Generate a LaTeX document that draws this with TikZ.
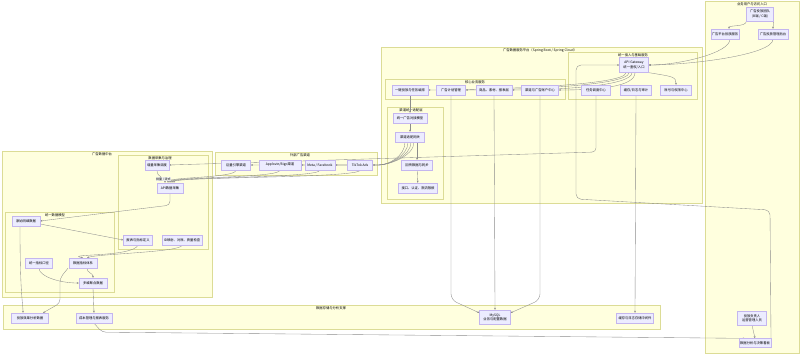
\documentclass[tikz,border=0pt]{standalone}
\usepackage{fontspec}
\newfontfamily\cjk{Noto Sans CJK SC}
\usepackage{tikz}
\usetikzlibrary{arrows.meta, positioning, calc}
\definecolor{clfill}{HTML}{FFFFDE}
\definecolor{clline}{HTML}{DCDC96}
\definecolor{ndfill}{HTML}{ECECFF}
\definecolor{ndline}{HTML}{C4B6EE}
\pgfdeclarelayer{grp}
\pgfdeclarelayer{lnk}
\pgfsetlayers{grp,lnk,main}
\tikzset{
  %% Subgraph frame
  grp/.style={draw=clline, fill=clfill, line width=0.4pt},
  %% Subgraph title
  grptitle/.style={font=\cjk\fontsize{3.3}{4}\selectfont, inner sep=0pt, anchor=north},
  %% Service node
  svc/.style={
    rectangle, draw=ndline, fill=ndfill,
    font=\cjk\fontsize{3.3}{4.2}\selectfont, align=center,
    inner sep=1pt, minimum height=10pt, minimum width=#1,
    line width=0.3pt
  },
  svc/.default=28pt,
  %% Arrow
  arr/.style={-{Stealth[length=2.2pt,width=1.8pt]},
              draw=black!45, line width=0.35pt},
  %% Edge label
  lbl/.style={fill=gray!12, font=\cjk\fontsize{3}{3.6}\selectfont, inner sep=0.6pt},
}
\begin{document}
\begin{tikzpicture}[x=1pt, y=-1pt]
  \useasboundingbox (0,0) rectangle (800,354);
  %% subgraphs
  \begin{pgfonlayer}{grp}
    \fill[white] (0,0) rectangle (800,354);
    \draw[grp] (705,1) rectangle (799,353);
    \draw[grp] (381,47) rectangle (702,203);
    \draw[grp] (568,52) rectangle (697,99);
    \draw[grp] (385,79) rectangle (565,99);
    \draw[grp] (387,107) rectangle (443,199);
    \draw[grp] (215,152) rectangle (377,175);
    \draw[grp] (2,151) rectangle (212,297);
    \draw[grp] (118,155) rectangle (208,249);
    \draw[grp] (5,212) rectangle (114,292);
    \draw[grp] (3,305) rectangle (660,329);
    \node[grptitle] (tUser) at (752,2.5) {业务用户与访问入口};
    \node[grptitle] (tPlat) at (540,48.5) {广告数据服务平台（Spring Boot / Spring Cloud）};
    \node[grptitle] (tAccess) at (633,53.5) {统一接入与基础服务};
    \node[grptitle] (tCore) at (475,80.5) {核心业务服务};
    \node[grptitle] (tAdapt) at (411,108.5) {渠道统一适配层};
    \node[grptitle] (tChan) at (300,153.5) {外部广告渠道};
    \node[grptitle] (tData) at (102,152.5) {广告数据中台};
    \node[grptitle] (tCollect) at (160,156.5) {数据采集与治理};
    \node[grptitle] (tModel) at (55,213.5) {统一数据模型};
    \node[grptitle] (tStore) at (331,306.5) {数据存储与分析支撑};
  \end{pgfonlayer}

  %% user entry
  \node[svc=27pt, minimum height=14pt] (userTeam) at (760,14) {广告投放团队\\(B端 / C端)};
  \node[svc=27pt] (platSvc) at (725,34) {广告平台投放服务};
  \node[svc=30pt] (adminSvc) at (773,34) {广告投放管理后台};
  \node[svc=29pt, minimum height=14pt] (rptUser) at (752,318) {投放负责人\\运营管理人员};
  \node[svc=30pt, minimum height=9pt] (board) at (755,343) {数据分析与决策看板};

  %% platform
  \node[svc=29pt, minimum height=15pt] (gateway) at (634,65) {API Gateway\\统一鉴权/入口};
  \node[svc=29pt] (taskSched) at (596,90) {任务调度中心};
  \node[svc=31pt] (cacheLog) at (636,90) {缓存/日志与审计};
  \node[svc=31pt] (acctAuth) at (676,90) {账号与权限中心};
  \node[svc=36pt] (oneKey) at (410,90) {一键投放与任务编排};
  \node[svc=29pt] (planMgr) at (451,90) {广告计划管理};
  \node[svc=36pt] (material) at (494,90) {商品、素材、报表层};
  \node[svc=37pt] (channelAcct) at (540,90) {渠道与广告账户中心};
  \node[svc=34pt] (unifyModel) at (410,118) {统一广告对接模型};
  \node[svc=29pt] (adaptGw) at (410,137) {渠道适配网关};
  \node[svc=31pt] (callback) at (417,165) {回传数据与同步};
  \node[svc=39pt] (authLimit) at (418,188) {接口、认证、限流限频};

  %% channels
  \node[svc=29pt] (ocean) at (236,165) {巨量引擎渠道};
  \node[svc=42pt] (applovin) at (280,165) {Applovin/Bigo渠道};
  \node[svc=30pt] (meta) at (320,165) {Meta / Facebook};
  \node[svc=25pt] (tiktok) at (360,165) {TikTok Ads};

  %% data platform
  \node[svc=24pt] (incCollect) at (157,165) {增量采集调度};
  \node[svc=26pt] (apiCollect) at (170,188) {API数据采集};
  \node[svc=28pt] (rawData) at (26,221) {原始明细数据};
  \node[svc=29pt] (metricDef) at (138,240) {报表与指标定义};
  \node[svc=40pt] (idMap) at (182,240) {ID映射、对账、质量检查};
  \node[svc=27pt] (unifyCaliber) at (39,263) {统一指标口径};
  \node[svc=28pt] (metricSys) at (83,263) {数据指标体系};
  \node[svc=28pt] (aggData) at (93,283) {多维聚合数据};

  %% storage
  \node[svc=37pt] (effect) at (30,318) {投放效果分析数据};
  \node[svc=36pt] (costRpt) at (94,318) {成本管理与报表服务};
  \node[svc=31pt, minimum height=14pt] (db) at (495,317) {MySQL\\业务与配置数据};
  \node[svc=37pt] (logStore) at (635,318) {缓存与日志存储中间件};

  \coordinate (schedTurn) at (596,152);
  \coordinate (loopR) at (770,210);
  \coordinate (loopL) at (576,199);

  \begin{pgfonlayer}{lnk}
    \draw[arr] (userTeam.south west) .. controls +(0,6) and +(0,-4) .. ([xshift=4pt]platSvc.north);
    \draw[arr] (userTeam.south east) .. controls +(0,5) and +(0,-4) .. (adminSvc.north);
    \draw[arr] ([xshift=5pt]platSvc.south) .. controls +(0,14) and +(30,0) .. (gateway.east);
    \draw[arr] (adminSvc.south) .. controls +(0,16) and +(40,0) .. (gateway.east);
    \draw[arr] (gateway.south east) .. controls +(25,4) and +(0,-8) .. (acctAuth.north);
    \foreach \t/\d in {oneKey/-8, planMgr/-5, material/-2, channelAcct/1}
      \draw[arr] ([xshift=\d pt]gateway.south) .. controls +(0,14) and +(40,0) .. (\t.east);
    \draw[arr, rounded corners=5pt] ([xshift=0pt]board.north east) -- (loopR) -- (loopL) |- (gateway.west);
    \draw[arr] (oneKey) -- (unifyModel);
    \draw[arr] (unifyModel) -- (adaptGw);
    \draw[arr] (adaptGw.south -| callback.north) -- (callback.north);
    \draw[arr] (callback) -- (authLimit);
    \foreach \t/\d in {tiktok/4, meta/1, applovin/-2, ocean/-5}
      \draw[arr] ([xshift=\d pt]adaptGw.south) .. controls +(0,14) and +(10,0) .. ([xshift=6pt]tiktok.east) -- (\t.east);
    \foreach \s/\d in {ocean/-2, applovin/0, meta/2, tiktok/4}
      \draw[arr] (\s.south) .. controls +(0,8) and +(0,-6) .. ([xshift=\d pt]apiCollect.north);
    \draw[arr, rounded corners=4pt] (taskSched.south) -- (schedTurn) -- (incCollect.east);
    \draw[arr] (incCollect.south) .. controls +(0,8) and +(0,-6) .. node[lbl, pos=0.72] (lblBatch) {批量 / 流式} ([xshift=-5pt]apiCollect.north);
    \draw[arr, rounded corners=4pt] (apiCollect.south) -- ++(0,12) -- (rawData.east);
    \draw[arr] ([yshift=-3pt]rawData.east) -- (metricDef.west);
    \draw[arr] (metricDef.south) .. controls +(-5,12) and +(-20,-4) .. (metricSys.north);
    \draw[arr] (idMap.south) .. controls +(0,7) and +(10,-4) .. ([xshift=4pt]metricSys.north);
    \draw[arr] (unifyCaliber.south) .. controls +(0,8) and +(-20,0) .. (aggData.west);
    \draw[arr] ([xshift=4pt]metricSys.south) .. controls +(0,5) and +(0,-5) .. (aggData.north);
    \draw[arr] ([xshift=-6pt]rawData.south) .. controls +(0,70) and +(0,-10) .. ([xshift=-7pt]effect.north);
    \draw[arr, rounded corners=4pt] ([xshift=-15pt]metricSys.south) -- ++(-8,10) -- ++(0,25) -- ([xshift=13pt]effect.north);
    \draw[arr] (aggData.south) -- (costRpt.north);
    \draw[arr, rounded corners=4pt] (costRpt.south) -- ++(8,9) -- ([xshift=6pt]board.north west);
    \draw[arr] (rptUser.south) -- (board.north);
    \draw[arr, rounded corners=6pt] (planMgr.south) -- ($(planMgr.south |- db.north)+(0,-10)$) -- ([yshift=-3pt]db.north west);
    \draw[arr] (material.south) -- (db.north);
    \draw[arr, rounded corners=6pt] (channelAcct.south) -- ($(channelAcct.south |- db.north)+(0,-10)$) -- ([yshift=-3pt]db.north east);
    \draw[arr] (cacheLog.south) -- (logStore.north);
  \end{pgfonlayer}
\end{tikzpicture}
\end{document}
